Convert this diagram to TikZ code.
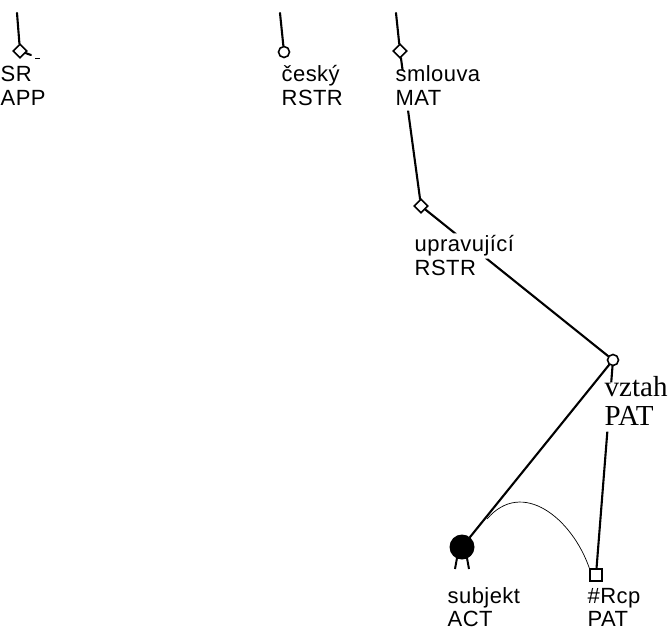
\documentclass[tikz,border=0pt]{standalone}
\usepackage{fontspec}
\setmainfont[LetterSpace=2]{Liberation Sans}
\newfontfamily\labserif{Liberation Serif}
\usetikzlibrary{shapes.geometric}
\begin{document}
\begin{tikzpicture}[x=1pt,y=-1pt,
  edgeline/.style={line width=2.1pt, line cap=round},
  thinline/.style={line width=0.7pt},
  dnode/.style={diamond, draw, line width=1.6pt, fill=white, inner sep=0pt, minimum size=14pt},
  cnode/.style={circle, draw, line width=1.6pt, fill=white, inner sep=0pt, minimum size=11pt},
  snode/.style={rectangle, draw, line width=1.6pt, fill=white, inner sep=0pt, minimum size=11.5pt},
  ballnode/.style={circle, fill=black, inner sep=0pt, minimum size=25pt},
  lab/.style={anchor=base west, inner sep=0.5pt, text height=16pt, text depth=5pt, font=\fontsize{22}{26}\selectfont},
  slab/.style={anchor=base west, inner sep=0.5pt, text depth=5pt, font=\labserif\fontsize{29}{32}\selectfont}]
\useasboundingbox (0,0) rectangle (670,630);

% tree nodes
\node[dnode] (sr) at (20,51) {};
\node[cnode] (cesky) at (284,52) {};
\node[dnode] (smlouva) at (400,51) {};
\node[dnode] (upr) at (421,206) {};
\node[cnode] (vztah) at (613,360) {};
\node[ballnode] (subj) at (462,547) {};
\node[snode] (rcp) at (596,575) {};

% labels
\node[lab] (srl) at (0,81) {SR};
\node[lab] (srf) at (0,105) {APP};
\node[lab] (ceskyl) at (281,81) {český};
\node[lab] (ceskyf) at (281,105) {RSTR};
\node[lab, text height=10pt] (smll) at (395,81) {smlouva};
\node[lab] (smlf) at (395,105) {MAT};
\node[lab, text height=17pt, text depth=7pt] (uprl) at (414,251) {upravující};
\node[lab] (uprf) at (414,275) {RSTR};
\node[slab, text height=13pt] (vztahl) at (604,396) {vztah};
\node[slab, text height=19pt, text depth=6pt] (vztahf) at (604,425) {PAT};
\node[lab] (subjl) at (447,603) {subjekt};
\node[lab] (subjf) at (447,626) {ACT};
\node[lab] (rcpl) at (587,603) {\#Rcp};
\node[lab] (rcpf) at (587,626) {PAT};

% free ends
\coordinate (srtop) at (17,13);
\coordinate (srend) at (31,55);
\coordinate (ceskytop) at (280,13);
\coordinate (smltop) at (396,13);
\coordinate (subjtail) at (487,519);

% edges, hidden where they pass behind labels
\begin{scope}[even odd rule]
\clip (0,0) rectangle (670,630)
  (smll.north west) rectangle (smll.east |- smlf.south)
  (uprl.north west) rectangle (uprl.south east)
  (uprf.north west) rectangle (uprf.south east)
  (vztahl.north west) rectangle (vztahl.east |- vztahf.south);
\draw[edgeline] (srtop) -- (sr);
\draw[edgeline] (sr) -- (srend);
\draw[edgeline] (ceskytop) -- (cesky);
\draw[edgeline] (smltop) -- (smlouva);
\draw[edgeline] (smlouva) -- (upr);
\draw[edgeline] (upr) -- (vztah);
\draw[edgeline] (vztah) -- (subj);
\draw[edgeline] (vztah) -- (rcp);
\end{scope}
\draw[line width=1pt] (35,58) -- (40,58);
\draw[thinline] (rcp.north west) .. controls (572,518) and (522,478) .. (subjtail);
\draw[line width=2pt] (457,558) -- (455,569);
\draw[line width=2pt] (467,558) -- (469,569);
\end{tikzpicture}
\end{document}
